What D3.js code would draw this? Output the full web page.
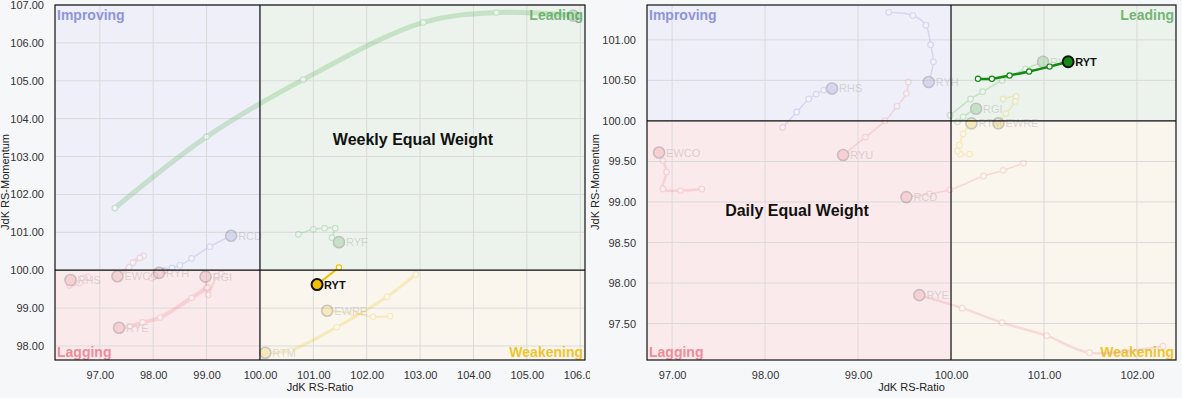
<!DOCTYPE html>
<html>
<head>
<meta charset="utf-8">
<script src="https://cdn.jsdelivr.net/npm/d3@7/dist/d3.min.js"></script>
<style>
  body { margin: 0; background: #f6f7f9; font-family: Arial, "Liberation Sans", sans-serif; }
  svg { position: absolute; top: 0; }
</style>
</head>
<body>
<div id="weekly"></div>
<div id="daily"></div>
<script>
// tails: [RS-Ratio, RS-Momentum], oldest first, head last
var wkRYT  = [[101.48, 100.07], [101.07, 99.62]];
var wkRYF  = [[100.72, 100.95], [101.0, 101.08], [101.21, 101.11], [101.41, 101.11], [101.35, 100.86], [101.48, 100.74]];
var wkEWRE = [[102.44, 98.79], [102.12, 98.77], [101.75, 98.87], [101.26, 98.93]];
var wkRTM  = [[102.92, 99.89], [102.38, 99.3], [101.44, 98.5], [100.56, 97.88], [100.1, 97.82]];
var wkRCD  = [[98.22, 99.99], [98.35, 100.06], [98.5, 100.13], [98.72, 100.31], [99.06, 100.62], [99.46, 100.91]];
var wkRYU  = [[97.28, 101.64], [99.0, 103.52], [100.81, 105.03], [103.06, 106.54], [104.43, 106.8], [105.87, 106.72]];
var wkRHS  = [[96.78, 99.82], [96.68, 99.8], [96.62, 99.66], [96.43, 99.6], [96.45, 99.74]];
var wkEWCO = [[97.82, 100.38], [97.75, 100.33], [97.62, 100.2], [97.55, 100.08], [97.33, 99.84]];
var wkRYH  = [[98.19, 99.98], [97.97, 99.79], [98.05, 99.86], [98.11, 99.93]];
var wkRGI  = [[99.28, 99.9], [99.19, 99.84], [99.03, 99.35], [99.0, 99.52], [98.98, 99.83]];
var wkRYE  = [[99.02, 99.55], [98.72, 99.27], [98.13, 98.75], [97.8, 98.62], [97.56, 98.52], [97.36, 98.48]];

var dyRYT  = [[100.29, 100.52], [100.44, 100.52], [100.63, 100.56], [100.84, 100.61], [101.06, 100.67], [101.26, 100.73]];
var dyRYF  = [[99.99, 100.07], [100.21, 100.27], [100.34, 100.36], [100.55, 100.5], [100.8, 100.64], [100.99, 100.73]];
var dyRGI  = [[100.07, 99.99], [100.13, 100.05], [100.27, 100.15]];
var dyRTM  = [[100.2, 99.59], [100.1, 99.59], [100.07, 99.63], [100.09, 99.7], [100.13, 99.84], [100.22, 99.97]];
var dyEWRE = [[100.56, 100.27], [100.7, 100.3], [100.69, 100.24], [100.59, 100.09], [100.51, 99.97]];
var dyRHS  = [[98.19, 99.92], [98.34, 100.11], [98.47, 100.27], [98.55, 100.33], [98.63, 100.38], [98.72, 100.4]];
var dyRYH  = [[99.33, 101.34], [99.59, 101.3], [99.73, 101.18], [99.78, 100.94], [99.81, 100.73], [99.76, 100.48]];
var dyEWCO = [[97.32, 99.16], [97.09, 99.14], [96.9, 99.16], [96.94, 99.37], [96.9, 99.51], [96.86, 99.61]];
var dyRYU  = [[99.54, 100.48], [99.52, 100.34], [99.42, 100.18], [99.29, 100.0], [99.08, 99.8], [98.84, 99.58]];
var dyRYE  = [[102.28, 97.22], [101.49, 97.14], [101.03, 97.35], [100.55, 97.51], [100.12, 97.69], [99.66, 97.85]];
var dyRCD  = [[100.78, 99.48], [100.56, 99.39], [100.35, 99.32], [99.99, 99.15], [99.77, 99.1], [99.52, 99.06]];

var wkXTicks = [97, 98, 99, 100, 101, 102, 103, 104, 105, 106];
var wkYTicks = [98, 99, 100, 101, 102, 103, 104, 105, 106, 107];
var dyXTicks = [97, 98, 99, 100, 101, 102];
var dyYTicks = [97.5, 98, 98.5, 99, 99.5, 100, 100.5, 101];

var quadColor = {
    leading: "#4fae4f", improving: "#8a90dc", lagging: "#ee7f8a", weakening: "#efc21a"
};

function quadrant(p) {
    if (p[0] >= 100) return p[1] >= 100 ? "leading" : "weakening";
    return p[1] >= 100 ? "improving" : "lagging";
}

function drawRRG(id, left, width, cfg) {
    var svg = d3.select("#" + id).append("svg")
        .attr("width", width).attr("height", 398)
        .style("left", left + "px");

    var x = d3.scaleLinear().domain(cfg.xDomain).range([cfg.x0, cfg.x1]);
    var y = d3.scaleLinear().domain(cfg.yDomain).range([360, 5]);

    svg.append("clipPath").attr("id", id + "-clip").append("rect")
        .attr("x", cfg.x0).attr("y", 5).attr("width", cfg.x1 - cfg.x0).attr("height", 355);

    var quads = [
        {name: "improving", fill: "#eeeff8", x: [cfg.xDomain[0], 100], y: [100, cfg.yDomain[1]]},
        {name: "leading", fill: "#ebf3ec", x: [100, cfg.xDomain[1]], y: [100, cfg.yDomain[1]]},
        {name: "lagging", fill: "#fbeaeb", x: [cfg.xDomain[0], 100], y: [cfg.yDomain[0], 100]},
        {name: "weakening", fill: "#faf6ee", x: [100, cfg.xDomain[1]], y: [cfg.yDomain[0], 100]}
    ];
    svg.selectAll("rect.quad").data(quads).enter().append("rect")
        .attr("x", function (d) { return x(d.x[0]); })
        .attr("y", function (d) { return y(d.y[1]); })
        .attr("width", function (d) { return x(d.x[1]) - x(d.x[0]); })
        .attr("height", function (d) { return y(d.y[0]) - y(d.y[1]); })
        .attr("fill", function (d) { return d.fill; });

    // grid
    svg.append("g").selectAll("line").data(cfg.xTicks).enter().append("line")
        .attr("x1", x).attr("x2", x).attr("y1", 5).attr("y2", 360)
        .attr("stroke", "#dadada").attr("stroke-width", 1);
    svg.append("g").selectAll("line").data(cfg.yTicks).enter().append("line")
        .attr("y1", y).attr("y2", y).attr("x1", cfg.x0).attr("x2", cfg.x1)
        .attr("stroke", "#dadada").attr("stroke-width", 1);

    // axes
    var xAxis = svg.append("g").attr("transform", "translate(0,362)")
        .call(d3.axisBottom(x).tickValues(cfg.xTicks).tickFormat(d3.format(".2f")).tickSize(0).tickPadding(9));
    var yAxis = svg.append("g").attr("transform", "translate(" + (cfg.x0 - 11) + ",0)")
        .call(d3.axisLeft(y).tickValues(cfg.yTicks).tickFormat(d3.format(".2f")).tickSize(0).tickPadding(0));
    [xAxis, yAxis].forEach(function (a) {
        a.select(".domain").remove();
        a.selectAll("text").attr("fill", "#333").style("font-size", "11px")
            .style("font-family", "Arial, 'Liberation Sans', sans-serif");
    });

    svg.append("text").attr("x", (cfg.x0 + cfg.x1) / 2).attr("y", 391)
        .attr("text-anchor", "middle").attr("font-size", 11).attr("fill", "#222")
        .text("JdK RS-Ratio");
    svg.append("text").attr("transform", "translate(" + cfg.yTitleX + ",182) rotate(-90)")
        .attr("text-anchor", "middle").attr("font-size", 11).attr("fill", "#222")
        .text("JdK RS-Momentum");

    // quadrant names
    var qLabels = [
        {t: "Improving", c: "#8c95db", x: cfg.x0 + 2, y: 20, a: "start"},
        {t: "Leading", c: "#74b574", x: cfg.x1 - 2, y: 20, a: "end"},
        {t: "Lagging", c: "#ef8c99", x: cfg.x0 + 2, y: 357, a: "start"},
        {t: "Weakening", c: "#f0c52c", x: cfg.x1 - 2, y: 357, a: "end"}
    ];
    svg.selectAll("text.q").data(qLabels).enter().append("text")
        .attr("x", function (d) { return d.x; }).attr("y", function (d) { return d.y; })
        .attr("text-anchor", function (d) { return d.a; })
        .attr("font-size", 14).attr("font-weight", "bold")
        .attr("fill", function (d) { return d.c; })
        .text(function (d) { return d.t; });

    svg.append("text").attr("x", cfg.titleX).attr("y", cfg.titleY)
        .attr("text-anchor", "middle").attr("font-size", 16).attr("font-weight", "bold")
        .attr("fill", "#111").text(cfg.title);

    var line = d3.line().x(function (d) { return x(d[0]); }).y(function (d) { return y(d[1]); })
        .curve(d3.curveCatmullRom.alpha(0.5));

    var plot = svg.append("g").attr("clip-path", "url(#" + id + "-clip)");

    cfg.tails.forEach(function (t) {
        var head = t.data[t.data.length - 1];
        var col = t.color || quadColor[quadrant(head)];
        var g = plot.append("g").attr("opacity", t.hi ? 1 : 0.24);
        g.append("path").attr("d", line(t.data)).attr("fill", "none")
            .attr("stroke", col).attr("stroke-width", t.w || 1.5)
            .attr("stroke-linecap", "round");
        g.selectAll("circle.m").data(t.data.slice(0, -1)).enter().append("circle")
            .attr("cx", function (d) { return x(d[0]); })
            .attr("cy", function (d) { return y(d[1]); })
            .attr("r", t.hi ? 2.6 : 2.8)
            .attr("fill", "#fff").attr("stroke", col).attr("stroke-width", 1.2);
        g.append("circle").attr("cx", x(head[0])).attr("cy", y(head[1]))
            .attr("r", 5.5).attr("fill", col)
            .attr("stroke", t.hi ? "#111" : "#333").attr("stroke-width", t.hi ? 2 : 1.6);
        // a head pressed against the right edge has its label cut off, as in the original
        if (x(head[0]) + 30 < cfg.x1) {
            g.append("text").attr("x", x(head[0]) + 7).attr("y", y(head[1]) + 4)
                .attr("font-size", 11).attr("fill", t.hi ? "#111" : "#777")
                .attr("font-weight", t.hi ? "bold" : "normal")
                .text(t.name);
        }
    });

    // frame + center lines
    svg.append("rect").attr("x", cfg.x0).attr("y", 5)
        .attr("width", cfg.x1 - cfg.x0).attr("height", 355)
        .attr("fill", "none").attr("stroke", "#111").attr("stroke-width", 1.2);
    svg.append("line").attr("x1", x(100)).attr("x2", x(100)).attr("y1", 5).attr("y2", 360)
        .attr("stroke", "#111").attr("stroke-width", 1.2);
    svg.append("line").attr("x1", cfg.x0).attr("x2", cfg.x1).attr("y1", y(100)).attr("y2", y(100))
        .attr("stroke", "#111").attr("stroke-width", 1.2);
}

drawRRG("weekly", 0, 590, {
    xDomain: [96.16, 106.09], yDomain: [97.63, 107.0], x0: 55, x1: 585, yTitleX: 9,
    xTicks: wkXTicks, yTicks: wkYTicks,
    title: "Weekly Equal Weight", titleX: 413, titleY: 145,
    tails: [
        {name: "RYU", data: wkRYU, w: 5},
        {name: "RCD", data: wkRCD, w: 1.5},
        {name: "RYF", data: wkRYF, w: 1.5},
        {name: "RTM", data: wkRTM, w: 3},
        {name: "EWRE", data: wkEWRE, w: 2},
        {name: "RHS", data: wkRHS, w: 2},
        {name: "EWCO", data: wkEWCO, w: 4},
        {name: "RYH", data: wkRYH, w: 2},
        {name: "RGI", data: wkRGI, w: 2},
        {name: "RYE", data: wkRYE, w: 4},
        {name: "RYT", data: wkRYT, w: 2, hi: true, color: "#f2bf00"}
    ]
});

drawRRG("daily", 590, 592, {
    xDomain: [96.73, 102.42], yDomain: [97.05, 101.43], x0: 57, x1: 586, yTitleX: 9,
    xTicks: dyXTicks, yTicks: dyYTicks,
    title: "Daily Equal Weight", titleX: 207, titleY: 216,
    tails: [
        {name: "RHS", data: dyRHS, w: 1.5},
        {name: "RYH", data: dyRYH, w: 1.5},
        {name: "EWCO", data: dyEWCO, w: 2.5},
        {name: "RYU", data: dyRYU, w: 1.5},
        {name: "RYE", data: dyRYE, w: 2.5},
        {name: "RCD", data: dyRCD, w: 1.5},
        {name: "RTM", data: dyRTM, w: 1.5},
        {name: "EWRE", data: dyEWRE, w: 1.5},
        {name: "RGI", data: dyRGI, w: 1.5},
        {name: "RYF", data: dyRYF, w: 1.5},
        {name: "RYT", data: dyRYT, w: 2.5, hi: true, color: "#138a13"}
    ]
});
</script>
</body>
</html>
